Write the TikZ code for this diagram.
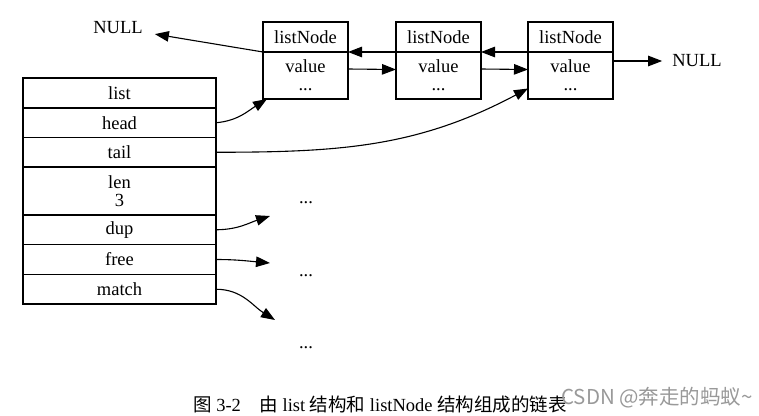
\documentclass[tikz,border=0pt]{standalone}
\usepackage{fontspec}
\setmainfont{Liberation Serif}
\newfontfamily\cjk{Noto Sans CJK SC}
\usetikzlibrary{positioning}
\usetikzlibrary{arrows.meta}

\begin{document}
\begin{tikzpicture}[x=1pt, y=-1pt,
	every node/.style={font=\fontsize{18.5}{18}\selectfont},
	field/.style={draw, line width=1.1pt, minimum width=193pt, minimum height=29.5pt, inner sep=0pt, outer sep=0pt, align=center},
	ntitle/.style={draw, line width=1.1pt, minimum width=85pt, minimum height=30pt, inner sep=0pt, outer sep=0pt},
	nbody/.style={draw, line width=1.1pt, minimum width=85pt, minimum height=47pt, inner sep=0pt, outer sep=0pt, align=center},
	null/.style={inner xsep=12pt, inner ysep=4pt},
	arr/.style={-{Triangle[length=14pt,width=10.5pt]}, line width=1.1pt}]
	\useasboundingbox (0,0) rectangle (759,415);
	% list struct
	\node[field, minimum height=30pt] (list) at (119.5,93) {list};
	\node[field, below=0pt of list] (head) {head};
	\node[field, below=0pt of head] (tail) {tail};
	\node[field, below=0pt of tail, minimum height=48pt] (len) {len\\ 3};
	\node[field, below=0pt of len] (dup) {dup};
	\node[field, below=0pt of dup, minimum height=30pt] (free) {free};
	\node[field, below=0pt of free] (match) {match};
	% listNodes
	\node[ntitle] (n1t) at (305.5,37) {listNode};
	\node[nbody, below=0pt of n1t] (n1v) {value\\...};
	\node[ntitle] (n2t) at (438.5,37) {listNode};
	\node[nbody, below=0pt of n2t] (n2v) {value\\...};
	\node[ntitle] (n3t) at (570.5,37) {listNode};
	\node[nbody, below=0pt of n3t] (n3v) {value\\...};
	\node[null] (nullL) at (118,28) {NULL};
	\node[null, inner xsep=10pt] (nullR) at (697,61) {NULL};
	% pointers
	\draw[arr] (n1t.south west) -- (nullL);
	\draw[arr] (n2t.south west) -- (n1t.south east);
	\draw[arr] (n3t.south west) -- (n2t.south east);
	\draw[arr] ([yshift=6.5pt]n1v.east) -- ([yshift=6pt]n2v.west);
	\draw[arr] ([yshift=6.5pt]n2v.east) -- ([yshift=6pt]n3v.west);
	\draw[arr] ([yshift=-9pt]n3t.south east) -- (nullR.west);
	\draw[arr] (head.east) to[out=5, in=-148] ([xshift=4pt]n1v.south west);
	\draw[arr] (tail.east) to[out=0, in=-152] ([yshift=-13pt]n3v.west);
	% functions
	\node (f1) at (306,203) {...};
	\node (f2) at (306,276) {...};
	\node (f3) at (306,348) {...};
	\coordinate (dupend) at (270,216);
	\coordinate (freeend) at (270,263);
	\coordinate (matchend) at (275,320);
	\draw[arr] (dup.east) to[out=0, in=-162] (dupend);
	\draw[arr] (free.east) to[out=0, in=175] (freeend);
	\draw[arr] (match.east) to[out=0, in=148] (matchend);
	% caption
	\node[font=\fontsize{18.5}{20}\selectfont] (cap) at (380,404) {{\cjk 图} 3-2\hspace{1em}{\cjk 由} list {\cjk 结构和} listNode {\cjk 结构组成的链表}};
	\node[font=\cjk\fontsize{20.5}{22}\selectfont, text=black!40] (mark) at (657,398) {CSDN @奔走的蚂蚁\textasciitilde};
\end{tikzpicture}
\end{document}
